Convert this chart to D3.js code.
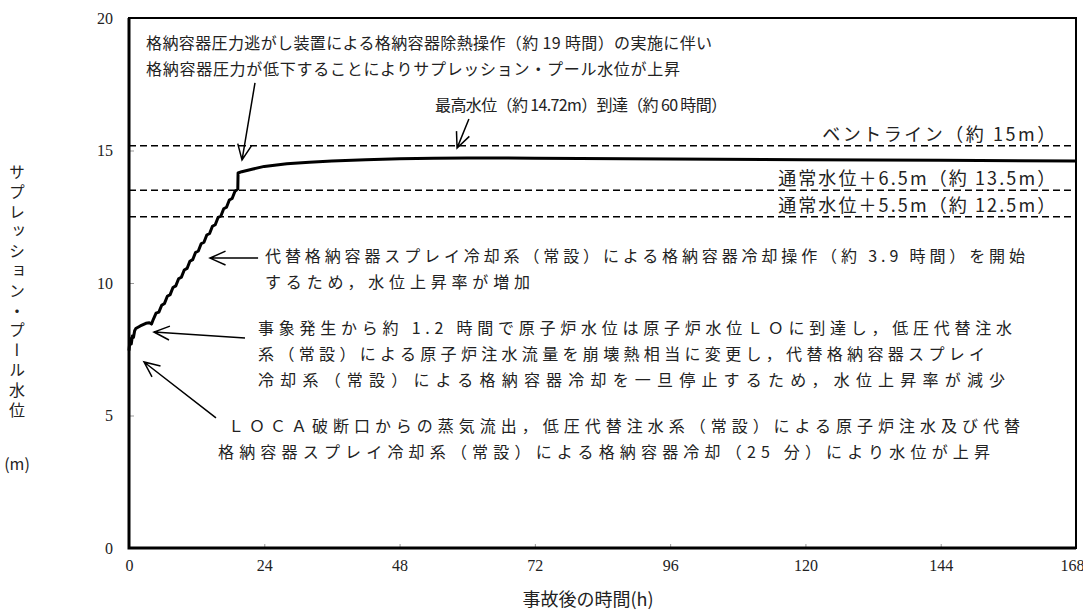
<!DOCTYPE html>
<html>
<head>
<meta charset="utf-8">
<script src="https://cdn.jsdelivr.net/npm/d3@7/dist/d3.min.js"></script>
<style>
  body { margin: 0; background: #fff; }
  .jp  { font-family: "Noto Sans CJK JP", sans-serif; font-size: 16px; fill: #222; }
</style>
</head>
<body>
<svg id="chart" width="1083" height="613"></svg>
<script>
'use strict';

// suppression pool water level (m) vs hours after the accident
const hours = [0, 0.2, 0.4, 0.6, 0.8, 1.0, 1.2, 2.0, 3.0, 3.6, 4.0, 4.3,
  4.8, 5.3, 5.8, 6.3, 6.8, 7.3, 7.8, 8.3, 8.8, 9.3, 9.8, 10.3, 10.8, 11.3,
  11.8, 12.3, 12.8, 13.3, 13.8, 14.3, 14.8, 15.3, 15.8, 16.3, 16.8, 17.3,
  17.8, 18.3, 18.8, 19.3, 19.35, 20, 22, 24, 28, 32, 36, 42, 48, 54, 60,
  72, 96, 120, 144, 168];
const level = [7.45, 7.9, 7.7, 8.0, 7.95, 8.2, 8.28, 8.38, 8.48, 8.5, 8.45, 8.62,
  8.86, 8.9, 9.16, 9.23, 9.5, 9.56, 9.83, 9.89, 10.16, 10.22, 10.49, 10.55,
  10.82, 10.88, 11.15, 11.21, 11.48, 11.54, 11.81, 11.87, 12.14, 12.2, 12.47,
  12.53, 12.8, 12.86, 13.13, 13.19, 13.46, 13.55, 14.15, 14.2, 14.3, 14.4,
  14.5, 14.56, 14.6, 14.65, 14.69, 14.71, 14.72, 14.71, 14.68, 14.65, 14.63, 14.6];

// dashed reference levels (m)
const refLevels = [15.18, 13.5, 12.5];
const refLabels = ['ベントライン（約 15m）', '通常水位＋6.5m（約 13.5m）', '通常水位＋5.5m（約 12.5m）'];

const xTicks = [0, 24, 48, 72, 96, 120, 144, 168];
const yTicks = [0, 5, 10, 15, 20];

const xTitle = '事故後の時間(h)';
const yTitle = 'サプレッション・プール水位';
const yUnit  = '(m)';

// annotation texts
const noteVent   = ['格納容器圧力逃がし装置による格納容器除熱操作（約 19 時間）の実施に伴い',
                    '格納容器圧力が低下することによりサプレッション・プール水位が上昇'];
const noteMax    = ['最高水位（約 14.72m）到達（約 60 時間）'];
const noteSpray  = ['代替格納容器スプレイ冷却系（常設）による格納容器冷却操作（約 3.9 時間）を開始',
                    'するため，水位上昇率が増加'];
const noteLO     = ['事象発生から約 1.2 時間で原子炉水位は原子炉水位ＬＯに到達し，低圧代替注水',
                    '系（常設）による原子炉注水流量を崩壊熱相当に変更し，代替格納容器スプレイ',
                    '冷却系（常設）による格納容器冷却を一旦停止するため，水位上昇率が減少'];
const noteLOCA   = ['ＬＯＣＡ破断口からの蒸気流出，低圧代替注水系（常設）による原子炉注水及び代替',
                    '格納容器スプレイ冷却系（常設）による格納容器冷却（25 分）により水位が上昇'];

const margin = { top: 18, right: 7, bottom: 65, left: 129 };
const W = 1083 - margin.left - margin.right,
      H = 613 - margin.top - margin.bottom;

const svg = d3.select('#chart');
const g = svg.append('g')
  .attr('transform', `translate(${margin.left},${margin.top})`);

const x = d3.scaleLinear().domain([0, 168]).range([0, W]);
const y = d3.scaleLinear().domain([0, 20]).range([H, 0]);

const numFont = a => a.selectAll('text')
  .attr('font-family', '"Liberation Serif", "DejaVu Serif", serif')
  .attr('font-size', 16)
  .attr('fill', '#222');

// inner ticks
g.append('g')
  .attr('transform', `translate(0,${H})`)
  .call(d3.axisBottom(x).tickValues(xTicks).tickSizeInner(-4).tickSizeOuter(0).tickPadding(12))
  .call(a => a.select('.domain').remove())
  .call(a => a.selectAll('line').attr('stroke', '#999'))
  .call(numFont)
  .call(a => a.selectAll('text').filter(d => d === 168).attr('dx', -4));

g.append('g')
  .call(d3.axisLeft(y).tickValues(yTicks).tickSizeInner(-5).tickSizeOuter(0).tickPadding(16))
  .call(a => a.select('.domain').remove())
  .call(a => a.selectAll('line').attr('stroke', '#999'))
  .call(numFont);

// frame
g.append('rect')
  .attr('width', W).attr('height', H)
  .attr('fill', 'none').attr('stroke', '#000').attr('stroke-width', 2);
g.append('path')
  .attr('d', `M0,0V${H}H${W}`)
  .attr('fill', 'none').attr('stroke', '#000').attr('stroke-width', 3);

// reference dashed lines
g.selectAll('.ref')
  .data(refLevels)
  .enter().append('line')
    .attr('class', 'ref')
    .attr('x1', 0).attr('x2', W)
    .attr('y1', d => y(d)).attr('y2', d => y(d))
    .attr('stroke', '#000').attr('stroke-width', 1.6)
    .attr('stroke-dasharray', '7,4');

// curve
const pts = hours.map((h, i) => [h, level[i]]);
g.append('path')
  .datum(pts)
  .attr('fill', 'none')
  .attr('stroke', '#000')
  .attr('stroke-width', 3)
  .attr('stroke-linejoin', 'round')
  .attr('d', d3.line().x(d => x(d[0])).y(d => y(d[1])));

// text helper: lines placed in data units, widths in px
function note(lines, t, v, widths, anchor) {
  const step = 26 / (H / 20);
  lines.forEach((s, i) => {
    const tx = g.append('text')
      .attr('class', 'jp')
      .attr('x', x(t))
      .attr('y', y(v - i * step))
      .attr('dominant-baseline', 'central')
      .attr('text-anchor', anchor || 'start')
      .text(s);
    if (widths && widths[i]) tx.attr('textLength', widths[i]).attr('lengthAdjust', 'spacing');
  });
}

note(noteVent,  3.02, 19.09, [566, 534]);
note(noteMax,   54.3, 16.75, [292]);
note(noteSpray, 24.13, 11.06, [760, 265]);
note(noteLO,    22.9, 8.34, [754, 727, 747]);
note(noteLOCA.slice(0, 1), 17.56, 4.64, [792]);
note(noteLOCA.slice(1),    15.79, 3.66, [772]);

// labels of the dashed levels, right aligned
g.selectAll('.reflab')
  .data(refLabels)
  .enter().append('text')
    .attr('class', 'jp')
    .style('font-size', '18px')
    .attr('x', x(164.3))
    .attr('y', (d, i) => y(refLevels[i]) - 13)
    .attr('dominant-baseline', 'central')
    .attr('text-anchor', 'end')
    .attr('textLength', (d, i) => i === 0 ? 233 : 277)
    .attr('lengthAdjust', 'spacing')
    .text(d => d);

// open arrows, [from, to] in data units
const arrows = [
  [[22.35, 17.55], [20.05, 14.64]],
  [[60.3, 16.19],  [58.2, 15.09]],
  [[22.9, 10.94],  [14.37, 10.94]],
  [[20.58, 7.92],  [4.43, 8.15]],
  [[15.43, 4.91],  [2.66, 7.02]]
];
arrows.forEach(([a, b]) => {
  const x0 = x(a[0]), y0 = y(a[1]), x1 = x(b[0]), y1 = y(b[1]);
  const ang = Math.atan2(y1 - y0, x1 - x0), L = 17, sp = 0.42;
  const p = d3.path();
  p.moveTo(x0, y0); p.lineTo(x1, y1);
  p.moveTo(x1 - L * Math.cos(ang - sp), y1 - L * Math.sin(ang - sp));
  p.lineTo(x1, y1);
  p.lineTo(x1 - L * Math.cos(ang + sp), y1 - L * Math.sin(ang + sp));
  g.append('path').attr('d', p.toString())
    .attr('fill', 'none').attr('stroke', '#000').attr('stroke-width', 1.5);
});

// axis titles
svg.append('text')
  .attr('class', 'jp')
  .style('font-size', '18px')
  .attr('x', 588)
  .attr('y', 598)
  .attr('dominant-baseline', 'central')
  .attr('text-anchor', 'middle')
  .text(xTitle);

svg.append('text')
  .attr('class', 'jp')
  .attr('x', 17)
  .attr('y', 164)
  .style('writing-mode', 'vertical-rl')
  .style('letter-spacing', '3.8px')
  .text(yTitle);

svg.append('text')
  .attr('class', 'jp')
  .attr('x', 17)
  .attr('y', 463)
  .attr('dominant-baseline', 'central')
  .attr('text-anchor', 'middle')
  .text(yUnit);
</script>
</body>
</html>
